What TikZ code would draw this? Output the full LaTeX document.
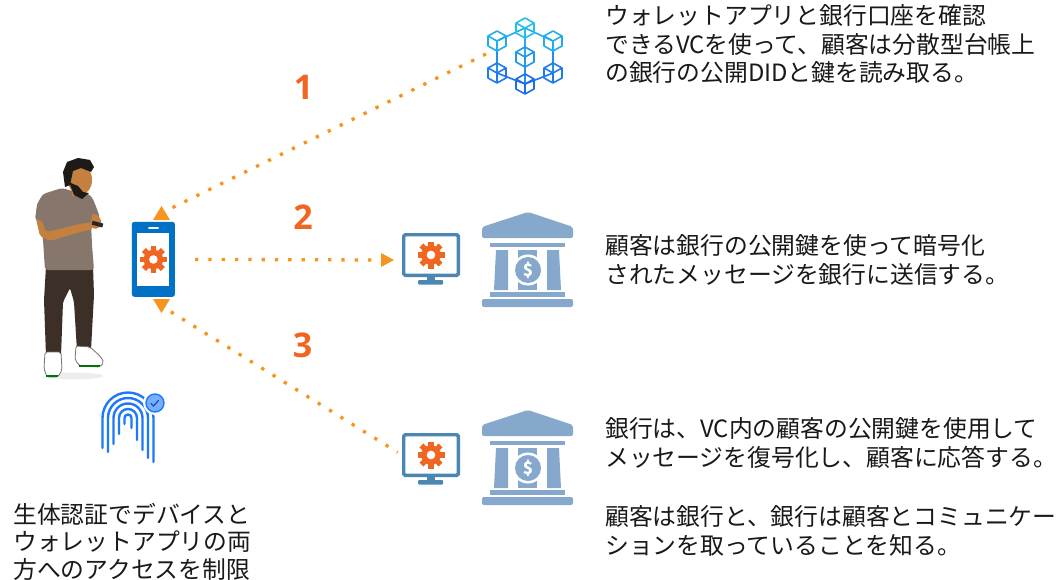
\documentclass[tikz,border=0pt]{standalone}
\usepackage{fontspec}
\setmainfont{Noto Sans CJK JP}
\newfontfamily\numfont{Open Sans}

\definecolor{dotc}{RGB}{247,148,29}
\definecolor{numc}{RGB}{241,101,34}
\definecolor{gearc}{RGB}{241,101,34}
\definecolor{phonec}{RGB}{0,114,198}
\definecolor{monc}{RGB}{74,135,178}
\definecolor{bankc}{RGB}{133,168,204}
\definecolor{fpc}{RGB}{30,120,255}
\definecolor{bctop}{RGB}{34,200,238}
\definecolor{bcbot}{RGB}{30,110,235}
\definecolor{shirt}{RGB}{134,118,108}
\definecolor{pants}{RGB}{59,47,39}
\definecolor{skin}{RGB}{196,128,63}
\definecolor{hair}{RGB}{30,26,23}

\tikzset{
  dots/.style={draw=dotc, line width=3.3pt, dash pattern=on 3.3pt off 10pt},
  note/.style={anchor=base west, align=left, inner sep=0pt, text=black!90,
    font=\fontsize{23.8}{28.5}\selectfont},
  stepnum/.style={text=numc, inner sep=0pt,
    font=\numfont\bfseries\fontsize{34}{34}\selectfont},
  phonebox/.style={fill=phonec, rounded corners=2.5pt, inner sep=0pt,
    minimum width=43pt, minimum height=75pt},
  screen/.style={draw=monc, fill=white, line width=3.4pt, rounded corners=1.5pt,
    inner sep=0pt, minimum width=54.6pt, minimum height=40.6pt},
  gear/.pic={
    \fill[gearc] (0,0) circle (9.8pt);
    \foreach \a in {0,45,...,315}
      \fill[gearc, rotate=\a] (-2.8,-13.5) rectangle (2.8,-8);
    \fill[white] (0,0) circle (4.3pt);
  },
  cube/.pic={
    \draw[line width=1.6pt, line join=round]
      (0,-10) -- (9,-5) -- (9,5) -- (0,10) -- (-9,5) -- (-9,-5) -- cycle
      (-9,-5) -- (0,0) -- (9,-5) (0,0) -- (0,10);
  },
  bank/.pic={
    \fill[bankc, rounded corners=2pt] (-46,15) -- (0,0) -- (45,15) -- (45,26) -- (-46,26) -- cycle;
    \fill[bankc] (-38,31) rectangle (37,35);
    \fill[bankc] (-32,38) -- (-20,38) -- (-20,78) -- (-34,78) -- cycle;
    \fill[bankc] (-10,38) rectangle (9,78);
    \fill[bankc] (19,38) -- (31,38) -- (33,78) -- (19,78) -- cycle;
    \fill[white] (0,58) circle (15.5pt);
    \fill[bankc] (0,58) circle (13pt);
    \node[text=white, inner sep=0pt, font=\bfseries\fontsize{17}{17}\selectfont] (-coin) at (0,58) {\$};
    \fill[bankc] (-38,80) rectangle (37,85);
    \fill[bankc, rounded corners=2pt] (-46,87) rectangle (45,95);
  }
}

\begin{document}
\begin{tikzpicture}[x=1pt, y=-1pt]
  \useasboundingbox (0,0) rectangle (1064,580);
  \fill[white] (0,0) rectangle (1064,580);

  % person holding the phone
  \begin{scope}
  \fill[black!7] (75,376) ellipse (28pt and 3.5pt);
  \fill[pants, rounded corners=2pt] (46,266) -- (93,266) -- (94,295) -- (91,350) -- (77,351)
    -- (74,302) -- (70,288) -- (63,302) -- (61,356) -- (46,356) -- (44,300) -- cycle;
  \filldraw[fill=white, draw=black!55, line width=0.8pt, rounded corners=2pt]
    (45,352) -- (61,352) -- (62,370) -- (58,377) -- (47,377) -- (44,369) -- cycle;
  \draw[green!45!black, line width=1.5pt] (46,376) -- (58,376);
  \filldraw[fill=white, draw=black!55, line width=0.8pt, rounded corners=2pt]
    (76,346) -- (90,347) -- (100,356) -- (104,362) -- (100,367) -- (80,366) -- (75,360) -- cycle;
  \draw[green!45!black, line width=1.5pt] (79,366) -- (100,366);
  \fill[shirt, rounded corners=3pt] (43,194) -- (62,188) -- (72,191) -- (85,192) -- (92,197)
    -- (97,209) -- (100,218) -- (91,222) -- (92,245) -- (94,270) -- (45,270) -- (43,240)
    -- (41,222) -- (35,220) -- (37,204) -- cycle;
  \fill[skin, rounded corners=2pt] (36,219) -- (42,221) -- (46,232) -- (80,224) -- (92,222)
    -- (93,229) -- (80,232) -- (50,241) -- (40,236) -- cycle;
  \fill[skin, rounded corners=2pt] (92,213) -- (99,216) -- (102,223) -- (98,229) -- (91,228) -- cycle;
  \fill[black!85, rotate around={-15:(97,224)}] (92,222) rectangle (103,226);
  \fill[skin] (80,180) ellipse (12pt and 15pt);
  \fill[skin] (72,188) rectangle (84,196);
  \fill[hair] (65,187) -- (63,172) -- (67,162) -- (78,158) -- (90,160) -- (94,167) -- (91,172)
    -- (81,168) -- (73,171) -- (70,185) -- cycle;
  \fill[hair] (69,182) -- (74,195) -- (82,199) -- (89,193) -- (83,192) -- (78,186) -- (73,184) -- cycle;
  \end{scope}

  % phone
  \node[phonebox] (phone) at (153.4,259.3) {};
  \fill[white] (137.4,232.8) rectangle (169.4,286);
  \draw[white, line width=2pt, line cap=round] (149,228.2) -- (158,228.2);
  \pic at (153.4,259.5) {gear};

  % fingerprint with check badge
  \begin{scope}[fpc, line width=2.4pt, line cap=round]
  \foreach \r/\l/\rr in {3.5/6/10, 9/16/22, 14.5/26/32, 20/34/40, 25.5/30/44}
    \draw ({128-\r},{418+\l}) -- ({128-\r},418) arc (180:360:\r) -- ({128+\r},{418+\rr});
  \end{scope}
  \fill[white] (155,403) circle (12pt);
  \filldraw[fill=fpc!60, draw=fpc, line width=1.4pt] (155,403) circle (9pt);
  \draw[fpc!70!black, line width=1.3pt, line cap=round] (151,403.5) -- (153.5,406) -- (158.5,400.5);

  % ledger network
  \foreach \p/\q in {525/28, 497/41, 553/41, 525/57, 497/73, 553/73, 525/84}
    \coordinate (c\p-\q) at (\p,\q);
  \begin{scope}[line width=1.6pt]
  \draw[bcbot!30!bctop] (c525-28) -- (c497-41) (c525-28) -- (c553-41) (c525-28) -- (c525-57);
  \draw[bcbot!60!bctop] (c497-41) -- (c497-73) (c553-41) -- (c553-73) (c525-57) -- (c525-84);
  \draw[bcbot!90!bctop] (c497-73) -- (c525-84) (c553-73) -- (c525-84);
  \end{scope}
  \foreach \p/\q/\m in {525/28/10, 497/41/30, 553/41/30, 525/57/55, 497/73/85, 553/73/85, 525/84/100}
    \pic[bcbot!\m!bctop] at (\p,\q) {cube};
  \coordinate (chainIn) at (486,54);

  % bank side
  \node[screen] (monA) at (431,255) {};
  \fill[monc] (427,277) rectangle (435,281);
  \fill[monc, rounded corners=1pt] (418,280) rectangle (443,284.5);
  \pic at (431,255) {gear};
  \pic (bankA) at (528,212) {bank};

  \node[screen] (monB) at (431,455) {};
  \fill[monc] (427,477) rectangle (435,481);
  \fill[monc, rounded corners=1pt] (418,480) rectangle (443,484.5);
  \pic at (431,455) {gear};
  \pic (bankB) at (528,410) {bank};

  % connectors
  \coordinate (tipA) at (161.5,213);
  \coordinate (tipB) at (387,260);
  \coordinate (tipC) at (161.5,306);
  \draw[dots, shorten >=11pt] (chainIn) -- (tipA);
  \draw[dots, shorten <=20pt, shorten >=4pt] (phone) -- (tipB);
  \draw[dots, shorten <=11pt, shorten >=5pt] (tipC) -- (monB.west);
  \fill[dotc] (tipA) ++(0,-7) -- ++(8.5,14) -- ++(-17,0) -- cycle;
  \fill[dotc] (tipB) ++(7,0) -- ++(-13,-7) -- ++(0,14) -- cycle;
  \fill[dotc] (tipC) ++(0,7) -- ++(8.5,-14) -- ++(-17,0) -- cycle;

  \node[stepnum] (n1) at (303.5,87.5) {1};
  \node[stepnum] (n2) at (303,217.5) {2};
  \node[stepnum] (n3) at (302.5,345.5) {3};

  % captions (anchored at the baseline of their last line)
  \node[note] (t1) at (605,82) {ウォレットアプリと銀行口座を確認\\できるVCを使って、顧客は分散型台帳上\\の銀行の公開DIDと鍵を読み取る。};
  \node[note] (t2) at (605,283) {顧客は銀行の公開鍵を使って暗号化\\されたメッセージを銀行に送信する。};
  \node[note] (t3) at (605,466) {銀行は、VC内の顧客の公開鍵を使用して\\メッセージを復号化し、顧客に応答する。};
  \node[note] (t4) at (605,554) {顧客は銀行と、銀行は顧客とコミュニケー\\ションを取っていることを知る。};
  \node[note, font=\fontsize{23.8}{27.5}\selectfont] (t5) at (13,578) {生体認証でデバイスと\\ウォレットアプリの両\\方へのアクセスを制限};
\end{tikzpicture}
\end{document}
